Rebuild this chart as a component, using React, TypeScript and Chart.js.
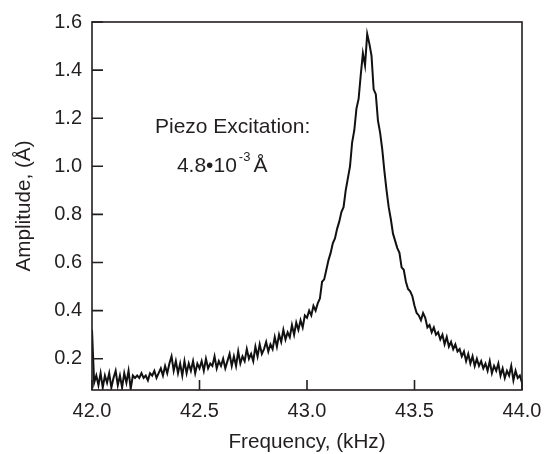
import React, { useEffect, useRef } from "react";
import { Chart, registerables } from "chart.js";

Chart.register(...registerables);

// ---- data ----
const frequencies = [
  42.0,
  42.01, 42.02, 42.03, 42.04, 42.05, 42.06, 42.07, 42.08, 42.09, 42.1,
  42.11, 42.12, 42.13, 42.14, 42.15, 42.16, 42.17, 42.18, 42.19, 42.2,
  42.21, 42.22, 42.23, 42.24, 42.25, 42.26, 42.27, 42.28, 42.29, 42.3,
  42.31, 42.32, 42.33, 42.34, 42.35, 42.36, 42.37, 42.38, 42.39, 42.4,
  42.41, 42.42, 42.43, 42.44, 42.45, 42.46, 42.47, 42.48, 42.49, 42.5,
  42.51, 42.52, 42.53, 42.54, 42.55, 42.56, 42.57, 42.58, 42.59, 42.6,
  42.61, 42.62, 42.63, 42.64, 42.65, 42.66, 42.67, 42.68, 42.69, 42.7,
  42.71, 42.72, 42.73, 42.74, 42.75, 42.76, 42.77, 42.78, 42.79, 42.8,
  42.81, 42.82, 42.83, 42.84, 42.85, 42.86, 42.87, 42.88, 42.89, 42.9,
  42.91, 42.92, 42.93, 42.94, 42.95, 42.96, 42.97, 42.98, 42.99, 43.0,
  43.01, 43.02, 43.03, 43.04, 43.05, 43.06, 43.07, 43.08, 43.09, 43.1,
  43.11, 43.12, 43.13, 43.14, 43.15, 43.16, 43.17, 43.18, 43.19, 43.2,
  43.21, 43.22, 43.23, 43.24, 43.25, 43.26, 43.27, 43.28, 43.29, 43.3,
  43.31, 43.32, 43.33, 43.34, 43.35, 43.36, 43.37, 43.38, 43.39, 43.4,
  43.41, 43.42, 43.43, 43.44, 43.45, 43.46, 43.47, 43.48, 43.49, 43.5,
  43.51, 43.52, 43.53, 43.54, 43.55, 43.56, 43.57, 43.58, 43.59, 43.6,
  43.61, 43.62, 43.63, 43.64, 43.65, 43.66, 43.67, 43.68, 43.69, 43.7,
  43.71, 43.72, 43.73, 43.74, 43.75, 43.76, 43.77, 43.78, 43.79, 43.8,
  43.81, 43.82, 43.83, 43.84, 43.85, 43.86, 43.87, 43.88, 43.89, 43.9,
  43.91, 43.92, 43.93, 43.94, 43.95, 43.96, 43.97, 43.98, 43.99, 44.0,
];

const amplitudes = [
  0.32,
  0.10, 0.13, 0.09, 0.14, 0.08, 0.13, 0.10, 0.14, 0.08, 0.12,
  0.15, 0.09, 0.13, 0.08, 0.14, 0.10, 0.15, 0.075, 0.13, 0.12,
  0.13, 0.12, 0.14, 0.12, 0.13, 0.11, 0.14, 0.13, 0.15, 0.12,
  0.14, 0.16, 0.13, 0.17, 0.14, 0.18, 0.21, 0.15, 0.19, 0.14,
  0.18, 0.13, 0.19, 0.14, 0.18, 0.15, 0.19, 0.14, 0.18, 0.16,
  0.19, 0.15, 0.20, 0.16, 0.18, 0.17, 0.21, 0.16, 0.19, 0.17,
  0.20, 0.16, 0.19, 0.22, 0.17, 0.21, 0.17, 0.23, 0.18, 0.21,
  0.19, 0.24, 0.20, 0.22, 0.19, 0.25, 0.21, 0.26, 0.22, 0.24,
  0.27, 0.23, 0.26, 0.24, 0.29, 0.25, 0.30, 0.27, 0.32, 0.28,
  0.31, 0.29, 0.34, 0.30, 0.35, 0.32, 0.36, 0.33, 0.38, 0.37,
  0.40, 0.38, 0.42, 0.40, 0.43, 0.45, 0.52, 0.53, 0.57, 0.61,
  0.64, 0.68, 0.70, 0.74, 0.77, 0.81, 0.83, 0.90, 0.95, 1.00,
  1.10, 1.15, 1.24, 1.28, 1.38, 1.47, 1.42, 1.55, 1.51, 1.46,
  1.32, 1.30, 1.19, 1.14, 1.07, 0.98, 0.90, 0.83, 0.78, 0.72,
  0.69, 0.66, 0.64, 0.58, 0.57, 0.52, 0.49, 0.48, 0.46, 0.42,
  0.39, 0.38, 0.36, 0.39, 0.37, 0.33, 0.34, 0.31, 0.33, 0.30,
  0.31, 0.28, 0.30, 0.26, 0.29, 0.25, 0.27, 0.24, 0.26, 0.23,
  0.24, 0.21, 0.23, 0.19, 0.22, 0.18, 0.21, 0.17, 0.20, 0.17,
  0.19, 0.16, 0.18, 0.15, 0.19, 0.14, 0.17, 0.15, 0.18, 0.13,
  0.16, 0.12, 0.15, 0.13, 0.17, 0.11, 0.15, 0.12, 0.13, 0.10,
];

const xTickValues = [42.0, 42.5, 43.0, 43.5, 44.0];
const yTickValues = [0.2, 0.4, 0.6, 0.8, 1.0, 1.2, 1.4, 1.6];

const xAxisTitle = "Frequency, (kHz)";
const yAxisTitle = "Amplitude, (Å)";

const noteLine1 = "Piezo Excitation:";
const noteMantissa = "4.8•10";
const noteExponent = "-3";
const noteUnit = "Å";
// annotation anchors in data coordinates [frequency, amplitude]
const noteLine1At = [42.293, 1.14];
const noteLine2At = [42.395, 0.978];

// ---- styles ----
const INK = "#231f20";
const FONT = '"Liberation Sans", Arial, Helvetica, sans-serif';

const framePlugin = {
  id: "frameAndNote",
  afterDraw(chart: any) {
    const { ctx, chartArea, scales } = chart;
    const { left, right, top, bottom } = chartArea;
    const xs = scales.x;
    const ys = scales.y;
    ctx.save();
    ctx.strokeStyle = INK;
    ctx.lineWidth = 1.6;
    ctx.strokeRect(left, top, right - left, bottom - top);
    ctx.beginPath();
    yTickValues.forEach((v) => {
      const py = ys.getPixelForValue(v);
      ctx.moveTo(left, py);
      ctx.lineTo(left + 11, py);
    });
    xTickValues.forEach((v) => {
      const px = xs.getPixelForValue(v);
      ctx.moveTo(px, bottom);
      ctx.lineTo(px, bottom - 10);
    });
    ctx.stroke();

    ctx.fillStyle = INK;
    ctx.textAlign = "left";
    ctx.textBaseline = "alphabetic";
    ctx.font = `21px ${FONT}`;
    ctx.fillText(
      noteLine1,
      xs.getPixelForValue(noteLine1At[0]),
      ys.getPixelForValue(noteLine1At[1])
    );
    let x2 = xs.getPixelForValue(noteLine2At[0]);
    const y2 = ys.getPixelForValue(noteLine2At[1]);
    ctx.fillText(noteMantissa, x2, y2);
    x2 += ctx.measureText(noteMantissa).width + 2;
    ctx.font = `13px ${FONT}`;
    ctx.fillText(noteExponent, x2, y2 - 11);
    x2 += ctx.measureText(noteExponent).width + 3;
    ctx.font = `21px ${FONT}`;
    ctx.fillText(noteUnit, x2, y2);
    ctx.restore();
  },
};

export default function App() {
  const canvasRef = useRef<HTMLCanvasElement | null>(null);

  useEffect(() => {
    const canvas = canvasRef.current;
    if (!canvas) return;
    const points = frequencies.map((f, i) => ({ x: f, y: amplitudes[i] }));
    const tickFont = { family: FONT, size: 20 };
    const titleFont = { family: FONT, size: 20.7 };
    const chart = new Chart(canvas, {
      type: "line",
      data: {
        datasets: [
          {
            data: points,
            borderColor: "#111111",
            borderWidth: 2,
            pointRadius: 0,
            tension: 0,
            fill: false,
          },
        ],
      },
      options: {
        responsive: false,
        animation: false,
        devicePixelRatio: 1,
        layout: { padding: { top: 15, right: 32, left: 0, bottom: 0 } },
        plugins: {
          legend: { display: false },
          tooltip: { enabled: false },
        },
        scales: {
          x: {
            type: "linear",
            min: 42,
            max: 44,
            afterBuildTicks: (s: any) => {
              s.ticks = xTickValues.map((v) => ({ value: v }));
            },
            afterFit: (s: any) => {
              s.height = 64;
            },
            grid: { display: false, drawTicks: false },
            border: { display: false },
            ticks: {
              padding: 9,
              color: INK,
              font: tickFont,
              maxRotation: 0,
              autoSkip: false,
              callback: (v: any) => Number(v).toFixed(1),
            },
            title: {
              display: true,
              text: xAxisTitle,
              color: INK,
              font: titleFont,
              padding: { top: 0, bottom: -1 },
            },
          },
          y: {
            type: "linear",
            min: 0.07,
            max: 1.6,
            afterBuildTicks: (s: any) => {
              s.ticks = yTickValues.map((v) => ({ value: v }));
            },
            afterFit: (s: any) => {
              s.width = 92;
            },
            grid: { display: false, drawTicks: false },
            border: { display: false },
            ticks: {
              padding: 10,
              color: INK,
              font: tickFont,
              autoSkip: false,
              callback: (v: any) => Number(v).toFixed(1),
            },
            title: {
              display: true,
              text: yAxisTitle,
              color: INK,
              font: titleFont,
              padding: { top: 12, bottom: 0 },
            },
          },
        },
      },
      plugins: [framePlugin],
    });
    return () => chart.destroy();
  }, []);

  return (
    <div
      style={{
        position: "fixed",
        left: 0,
        top: 0,
        width: 554,
        height: 454,
        background: "#ffffff",
      }}
    >
      <canvas
        ref={canvasRef}
        width={554}
        height={454}
        style={{ display: "block", width: 554, height: 454 }}
      />
    </div>
  );
}
